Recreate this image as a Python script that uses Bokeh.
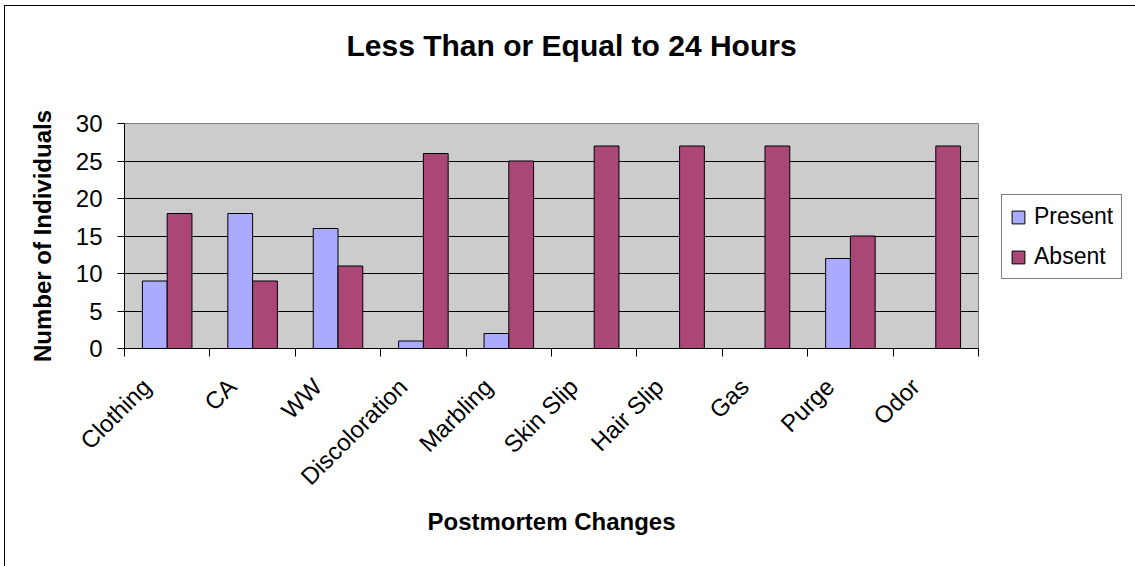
import numpy as np
from bokeh.plotting import figure
from bokeh.models import Range1d, FixedTicker, Legend, LegendItem, Title
from bokeh.embed import file_html
from bokeh.resources import INLINE

categories = ["Clothing", "CA", "WW", "Discoloration", "Marbling",
              "Skin Slip", "Hair Slip", "Gas", "Purge", "Odor"]
present = [9, 18, 16, 1, 2, 0, 0, 0, 12, 0]
absent = [18, 9, 11, 26, 25, 27, 27, 27, 15, 27]
series_names = ["Present", "Absent"]
series_colors = ["#AAAAFF", "#AA4777"]
y_ticks = [0, 5, 10, 15, 20, 25, 30]
title_text = "Less Than or Equal to 24 Hours"

FONT = "Liberation Sans"
n = len(categories)
idx = np.arange(n)
bw = 0.29
label_shift = 0.24  # rotated labels end a little left of the category centre

p = figure(frame_width=854, frame_height=225, output_backend="svg",
           toolbar_location=None,
           x_range=Range1d(0, n), y_range=Range1d(0, 30),
           min_border_left=119, min_border_right=152,
           min_border_top=117, min_border_bottom=218)
p.margin = (6, 0, 0, 5)
p.styles = {"outline": "1px solid #000000", "outline-offset": "0px"}

p.background_fill_color = "#CCCCCC"
p.border_fill_color = "white"
p.outline_line_color = "#808080"
p.outline_line_width = 1

r1 = p.vbar(x=idx + 0.5 - bw / 2, top=present, width=bw, bottom=0,
            fill_color=series_colors[0], line_color="black", line_width=1)
r2 = p.vbar(x=idx + 0.5 + bw / 2, top=absent, width=bw, bottom=0,
            fill_color=series_colors[1], line_color="black", line_width=1)

# x axis: labels near category centres, tick marks at category boundaries
label_pos = [float(i + 0.5 - label_shift) for i in idx]
xa = p.xaxis[0]
xa.ticker = FixedTicker(ticks=label_pos, minor_ticks=list(range(n + 1)))
xa.major_label_overrides = {lp: c for lp, c in zip(label_pos, categories)}
xa.major_tick_out = 0
xa.major_tick_in = 0
xa.minor_tick_out = 8
xa.minor_tick_in = 0
xa.minor_tick_line_color = "black"
xa.axis_line_color = "black"
xa.major_label_orientation = np.pi / 4
xa.major_label_text_font = FONT
xa.major_label_text_font_size = "24px"
xa.major_label_text_color = "black"
xa.major_label_standoff = 26
xa.axis_label = "Postmortem Changes"
xa.axis_label_text_font = FONT
xa.axis_label_text_font_size = "24px"
xa.axis_label_text_font_style = "bold"
xa.axis_label_text_color = "black"
xa.axis_label_standoff = 5

ya = p.yaxis[0]
ya.ticker = FixedTicker(ticks=y_ticks)
ya.minor_tick_line_color = None
ya.major_tick_out = 7
ya.major_tick_in = 0
ya.major_tick_line_color = "black"
ya.axis_line_color = "black"
ya.major_label_text_font = FONT
ya.major_label_text_font_size = "24px"
ya.major_label_text_color = "black"
ya.major_label_standoff = 15
ya.axis_label = "Number of Individuals"
ya.axis_label_text_font = FONT
ya.axis_label_text_font_size = "24px"
ya.axis_label_text_font_style = "bold"
ya.axis_label_text_color = "black"
ya.axis_label_standoff = 17

p.xgrid.grid_line_color = None
p.ygrid.ticker = FixedTicker(ticks=y_ticks[1:-1])
p.ygrid.grid_line_color = "black"
p.ygrid.grid_line_width = 1

# trailing empty line lifts the title towards the top of the chart area
title = Title(text=title_text + "\n", align="left", vertical_align="bottom",
              text_font=FONT, text_font_size="30px", text_font_style="bold",
              text_line_height=1.3,
              text_color="black", offset=222, standoff=38)
p.add_layout(title, "above")

legend = Legend(items=[LegendItem(label=series_names[0], renderers=[r1]),
                       LegendItem(label=series_names[1], renderers=[r2])],
                location=(23, 69), orientation="vertical",
                label_text_font=FONT, label_text_font_size="23px",
                label_text_color="black",
                glyph_width=16, glyph_height=16, label_height=25,
                label_standoff=8, spacing=13, padding=8, margin=0,
                border_line_color="black", border_line_width=1,
                background_fill_color="white", background_fill_alpha=1)
p.add_layout(legend, "right")

open("out.html", "w").write(file_html(p, INLINE))
